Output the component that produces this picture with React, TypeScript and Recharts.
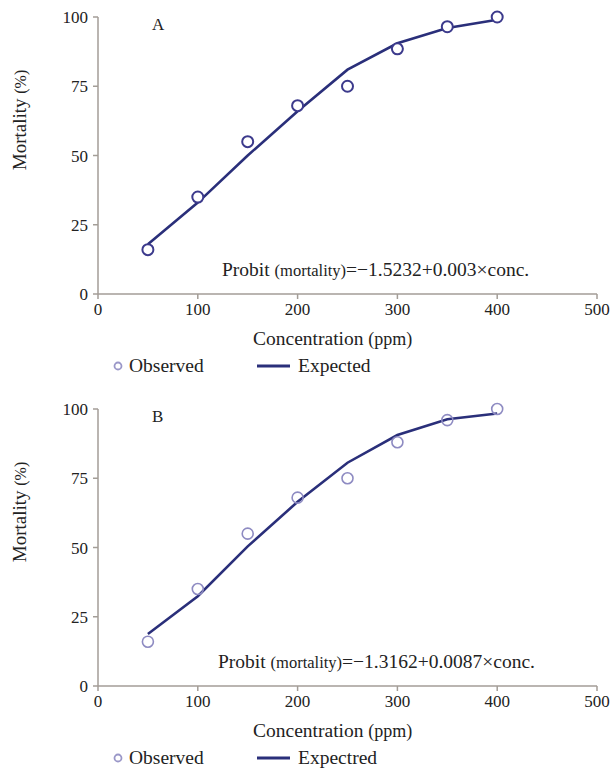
import React from "react";
import { ComposedChart, Line, XAxis, YAxis } from "recharts";

const concentration = [50, 100, 150, 200, 250, 300, 350, 400];
const observedA = [16, 35, 55, 68, 75, 88.5, 96.5, 100];
const expectedA = [18, 33, 50, 66, 81, 90.5, 96, 99];
const observedB = [16, 35, 55, 68, 75, 88, 96, 100];
const expectedB = [18.8, 32.4, 50.4, 66.5, 80.6, 90.6, 96.3, 98.4];
const xTicks = [0, 100, 200, 300, 400, 500];
const yTicks = [0, 25, 50, 75, 100];

const FONT = "'Liberation Serif', 'Times New Roman', serif";
const AXIS = "#a39d97";
const INK = "#222";
const NAVY = "#2a2f7a";

function buildRows(observed: number[], expected: number[]) {
  return concentration.map((c, i) => ({
    conc: c,
    observed: observed[i],
    expected: expected[i],
  }));
}

interface PanelProps {
  top: number;
  observed: number[];
  expected: number[];
  dotColor: string;
  dotFill: string;
  dotWidth: number;
  dotR: number;
}

function Panel({ top, observed, expected, dotColor, dotFill, dotWidth, dotR }: PanelProps) {
  const rows = buildRows(observed, expected);
  return (
    <div style={{ position: "absolute", left: 0, top }}>
      <ComposedChart
        width={610}
        height={390}
        data={rows}
        margin={{ top: 17, right: 13, left: 0, bottom: 66 }}
      >
        <XAxis
          dataKey="conc"
          type="number"
          domain={[0, 500]}
          ticks={xTicks}
          height={30}
          axisLine={{ stroke: AXIS, strokeWidth: 1.5 }}
          tickLine={{ stroke: AXIS, strokeWidth: 1.5 }}
          tickSize={5}
          tickMargin={4}
          tick={{ fill: INK, fontSize: 17, fontFamily: FONT }}
        />
        <YAxis
          type="number"
          domain={[0, 100]}
          ticks={yTicks}
          width={98}
          axisLine={{ stroke: AXIS, strokeWidth: 1.5 }}
          tickLine={{ stroke: AXIS, strokeWidth: 1.5 }}
          tickSize={5}
          tickMargin={5}
          tick={{ fill: INK, fontSize: 17, fontFamily: FONT }}
        />
        <Line
          dataKey="expected"
          type="linear"
          stroke={NAVY}
          strokeWidth={2.6}
          dot={false}
          isAnimationActive={false}
        />
        <Line
          dataKey="observed"
          type="linear"
          stroke="none"
          dot={{ r: dotR, stroke: dotColor, strokeWidth: dotWidth, fill: dotFill }}
          activeDot={false}
          isAnimationActive={false}
        />
      </ComposedChart>
    </div>
  );
}

function Annotations({ dy, letter, eqX, eqTail, expectedLabel }: { dy: number; letter: string; eqX: number; eqTail: string; expectedLabel: string }) {
  return (
    <g fontFamily={FONT} fill={INK}>
      <text x={152} y={30 + dy} fontSize={17}>{letter}</text>
      <text x={26} y={120 + dy} fontSize={19} textAnchor="middle" transform={`rotate(-90 26 ${120 + dy})`}>
        Mortality <tspan fontSize={16}>(%)</tspan>
      </text>
      <text x={253} y={345 + dy} fontSize={19.5}>
        Concentration <tspan fontSize={18}>(ppm)</tspan>
      </text>
      <text x={eqX} y={276 + dy} fontSize={19.5}>
        Probit <tspan fontSize={16.5}>(mortality)</tspan>
        {eqTail}
      </text>
      <circle cx={118} cy={366 + dy} r={3.5} fill="#fff" stroke="#9a97c8" strokeWidth={1.8} />
      <text x={129} y={372 + dy} fontSize={19.5}>Observed</text>
      <line x1={257} x2={290} y1={366 + dy} y2={366 + dy} stroke={NAVY} strokeWidth={3} />
      <text x={298} y={372 + dy} fontSize={19.5}>{expectedLabel}</text>
    </g>
  );
}

export default function App() {
  return (
    <div style={{ position: "absolute", left: 0, top: 0, width: 610, height: 773, background: "#fff" }}>
      <Panel top={0} observed={observedA} expected={expectedA} dotColor="#3c3a8c" dotFill="#fff" dotWidth={2} dotR={5.5} />
      <Panel top={392} observed={observedB} expected={expectedB} dotColor="#8e8bc2" dotFill="none" dotWidth={1.6} dotR={5.5} />
      <svg width={610} height={773} style={{ position: "absolute", left: 0, top: 0, pointerEvents: "none" }}>
        <Annotations dy={0} letter="A" eqX={222} eqTail={"=\u22121.5232+0.003\u00d7conc."} expectedLabel="Expected" />
        <Annotations dy={392} letter="B" eqX={218} eqTail={"=\u22121.3162+0.0087\u00d7conc."} expectedLabel="Expectred" />
      </svg>
    </div>
  );
}
